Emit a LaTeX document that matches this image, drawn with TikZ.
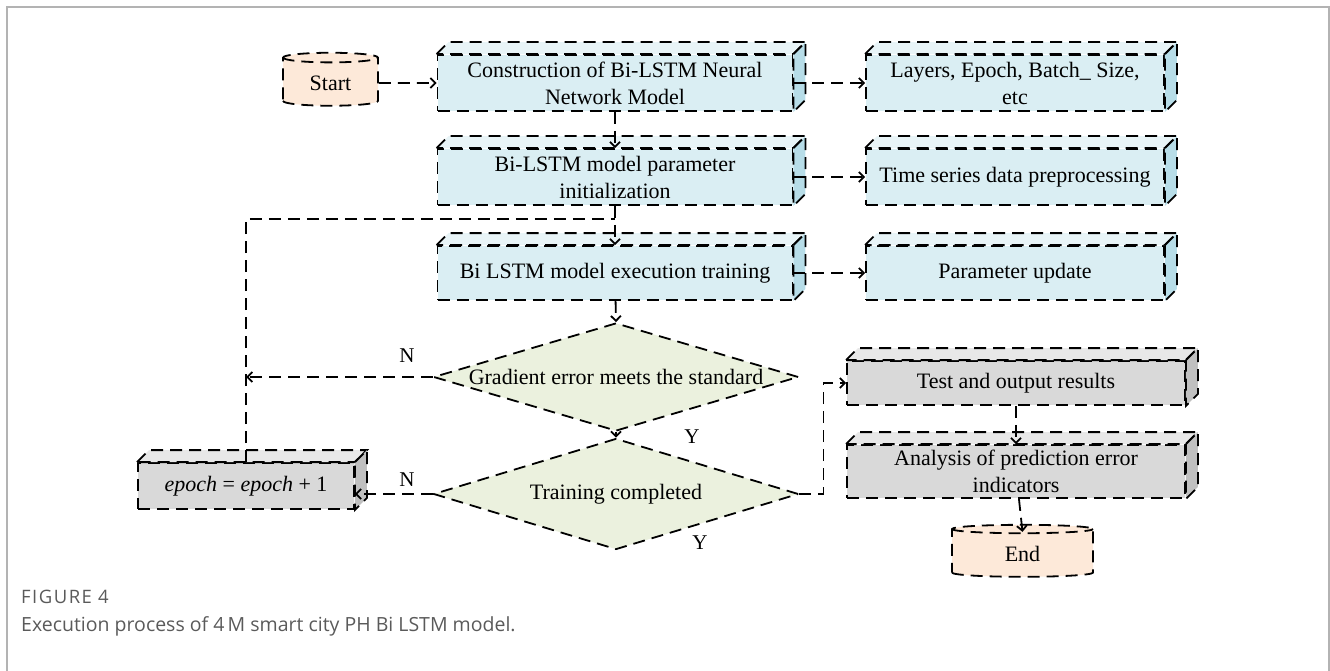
\documentclass[tikz,border=0pt]{standalone}
\usepackage{fontspec}
\setmainfont{Liberation Serif}
\newfontfamily\capfont{Open Sans}
\newfontfamily\figfont[LetterSpace=8]{Open Sans}
\usetikzlibrary{shapes.geometric}
\usetikzlibrary{arrows.meta}
\definecolor{bluefront}{HTML}{DAEEF3}
\definecolor{bluetop}{HTML}{E8F4F7}
\definecolor{blueside}{HTML}{B7DDE8}
\definecolor{greyfront}{HTML}{D9D9D9}
\definecolor{greytop}{HTML}{E8E8E8}
\definecolor{greyside}{HTML}{C0C0C0}
\definecolor{peach}{HTML}{FDE9D9}
\definecolor{sage}{HTML}{EBF1DE}
\definecolor{framegrey}{HTML}{B3B3B3}
\definecolor{capgrey}{HTML}{5A5A5A}
\tikzstyle{object}=[line width=1.8pt, dash pattern=on 12pt off 7pt]
\tikzstyle{link}=[object, -{Straight Barb[length=5pt,width=10pt]}]
\tikzstyle{boxtext}=[font=\fontsize{22}{27}\selectfont, align=center]
\tikzstyle{cube}=[object, draw, boxtext, rectangle, inner sep=0pt]
\tikzstyle{terminal}=[object, draw, boxtext, cylinder, shape border rotate=90, aspect=0.2, fill=peach]
\tikzstyle{decision}=[object, draw, boxtext, diamond, aspect=3.4, fill=sage, inner sep=0pt]
\tikzstyle{answer}=[font=\fontsize{21}{22}\selectfont]

\begin{document}
\begin{tikzpicture}[x=1pt, y=-1pt]
          \useasboundingbox (0,0) rectangle (1330,671);
          \draw[framegrey, line width=1.5pt]
            (7,671) -- (7,7) -- (1329,7) -- (1329,671);

          \node[terminal, minimum width=95, minimum height=53] (start) at (330.5,83) {Start};
          \node[cube, fill=bluefront, minimum width=355, minimum height=56] (cons) at (615,83)
            {Construction of Bi-LSTM Neural\\Network Model};
          \node[cube, fill=bluefront, minimum width=298, minimum height=56] (layers) at (1015,83)
            {Layers, Epoch, Batch\_ Size,\\etc};
          \node[cube, fill=bluefront, minimum width=355, minimum height=56] (init) at (615,177)
            {Bi-LSTM model parameter\\initialization};
          \node[cube, fill=bluefront, minimum width=298, minimum height=56] (prep) at (1015,177)
            {Time series data preprocessing};
          \node[cube, fill=bluefront, minimum width=355, minimum height=54] (train) at (615,273)
            {Bi LSTM model execution training};
          \node[cube, fill=bluefront, minimum width=298, minimum height=54] (update) at (1015,273)
            {Parameter update};
          \node[decision, minimum width=365, minimum height=108] (grad) at (616,377)
            {Gradient error meets the standard};
          \node[decision, minimum width=365, minimum height=111] (done) at (616,494)
            {Training completed};
          \node[cube, fill=greyfront, minimum width=216, minimum height=46] (epoch) at (246,486)
            {\itshape epoch \upshape = \itshape epoch \upshape + 1};
          \node[cube, fill=greyfront, minimum width=338, minimum height=44] (test) at (1016,383)
            {Test and output results};
          \node[cube, fill=greyfront, minimum width=338, minimum height=53] (anal) at (1016,471.5)
            {Analysis of prediction error\\indicators};
          \node[terminal, minimum width=141, minimum height=52] (end) at (1022.5,554) {End};

          \foreach \n/\ct/\cs in {cons/bluetop/blueside, layers/bluetop/blueside,
              init/bluetop/blueside, prep/bluetop/blueside, train/bluetop/blueside,
              update/bluetop/blueside, epoch/greytop/greyside, test/greytop/greyside,
              anal/greytop/greyside}
          {
            \filldraw[object, fill=\ct]
              (\n.north west) -- ++(12,-12)
              -- ([shift={(12pt,12pt)}]\n.north east) -- (\n.north east) -- cycle;
            \filldraw[object, fill=\cs]
              (\n.north east) -- ++(12,-12)
              -- ([shift={(12pt,12pt)}]\n.south east) -- (\n.south east) -- cycle;
          }

          \coordinate (loop) at (615,219);
          \draw[link] (start) -- (cons);
          \draw[link] (cons) -- (layers);
          \draw[link] (cons) -- (init);
          \draw[link] (init) -- (prep);
          \draw[link] (init) -- (train);
          \draw[link] (train) -- (update);
          \draw[link] (train) -- (grad.north);
          \draw[link] (grad.south) -- (done.north);
          \draw[object] (epoch.north) |- (loop);
          \draw[link] (grad.west) -- (grad.west -| epoch.north);
          \draw[link] (done.west) -- (done.west -| epoch.east);
          \draw[link] (done.east) -- ++(24,0) |- (test.west);
          \draw[link] (test) -- (anal);
          \draw[link] (anal) -- ([yshift=-8pt]end.north);

          \node[answer] (n1) at (407,356) {N};
          \node[answer] (n2) at (407,480) {N};
          \node[answer] (y1) at (692,437) {Y};
          \node[answer] (y2) at (700,543) {Y};

          \node[anchor=base west, inner sep=0pt, text=capgrey,
            font=\figfont\fontsize{18.5}{20}\selectfont] (fig) at (21,603) {FIGURE 4};
          \node[anchor=base west, inner sep=0pt, text=capgrey,
            font=\capfont\fontsize{19.5}{21}\selectfont] (caption) at (21,631)
            {Execution process of 4\,M smart city PH Bi LSTM model.};
        \end{tikzpicture}
\end{document}
